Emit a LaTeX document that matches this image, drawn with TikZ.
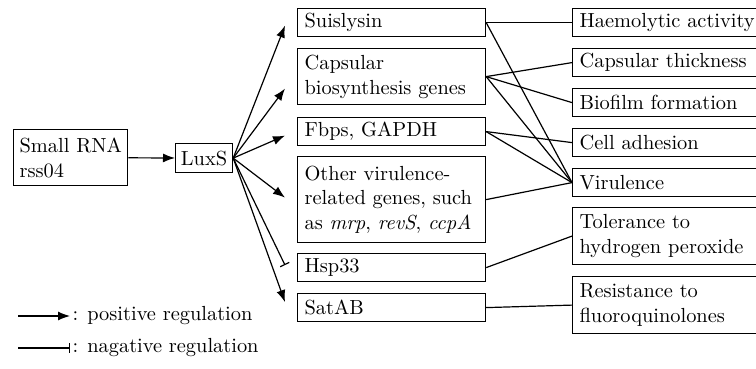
\documentclass[tikz,border=0pt]{standalone}
\usetikzlibrary{arrows.meta}
\begin{document}
\begin{tikzpicture}[x=.5pt, y=-.5pt, line width=.6pt, >={Latex[length=6pt,width=4.5pt]},
  every node/.style={font=\fontsize{10.2pt}{12.4pt}\selectfont},
  box/.style={draw, anchor=north west, inner xsep=3.5pt, inner ysep=0pt, align=left, minimum height=14pt},
  gene/.style={box, text width=87pt},
  trait/.style={box, text width=95pt}]
\useasboundingbox (0,0) rectangle (756,369);
\node [box, inner xsep=3pt, minimum width=57pt, minimum height=28pt] (rna) at (13,129) {Small RNA\\rss04};
\node [box, inner xsep=2pt, minimum width=28.5pt, minimum height=14.5pt, align=center] (lux) at (175,143) {LuxS};
% genes
\node [gene] (sui) at (297,8) {Suislysin};
\node [gene, minimum height=28pt] (cap) at (297,48) {Capsular\\biosynthesis genes};
\node [gene] (fbp) at (297,117) {Fbps, GAPDH};
\node [gene, minimum height=43pt] (oth) at (297,156) {Other virulence-\\related genes, such\\as \textit{mrp}, \textit{revS}, \textit{ccpA}};
\node [gene] (hsp) at (297,253) {Hsp33};
\node [gene] (sat) at (297,293) {SatAB};
% traits
\node [trait] (hae) at (572,8) {Haemolytic activity};
\node [trait] (thk) at (572,48) {Capsular thickness};
\node [trait] (bio) at (572,88) {Biofilm formation};
\node [trait] (adh) at (572,128) {Cell adhesion};
\node [trait] (vir) at (572,168) {Virulence};
\node [trait, minimum height=28.5pt] (tol) at (572,207) {Tolerance to\\hydrogen peroxide};
\node [trait, minimum height=28.5pt] (flq) at (572,276) {Resistance to\\fluoroquinolones};
\draw [->] (rna) -- (lux);
\draw [->] (lux.east) -- ([xshift=-6pt, yshift=-1.5pt]sui.west);
\draw [->] (lux.east) -- ([xshift=-6pt, yshift=-6pt]cap.west);
\draw [->] (lux.east) -- ([xshift=-6pt, yshift=-2pt]fbp.west);
\draw [->] (lux.east) -- ([xshift=-6pt, yshift=1pt]oth.west);
\draw [-{Bar[width=5pt]}] (lux.east) -- ([xshift=-6pt, yshift=1.25pt]hsp.west);
\draw [->] (lux.east) -- ([xshift=-6pt, yshift=2.75pt]sat.west);
\draw (sui.east) -- (hae.west);
\draw (sui.east) -- (vir.west);
\draw (cap.east) -- (thk.west);
\draw (cap.east) -- (bio.west);
\draw (cap.east) -- (vir.west);
\draw (fbp.east) -- (adh.west);
\draw (fbp.east) -- (vir.west);
\draw (oth.east) -- (vir.west);
\draw (hsp.east) -- (tol.west);
\draw (sat.east) -- (flq.west);
% legend
\coordinate (posl) at (18,316);
\coordinate (negl) at (18,348);
\node [anchor=west, inner sep=0pt] (post) at (72,316) {: positive regulation};
\node [anchor=west, inner sep=0pt] (negt) at (72,348) {: nagative regulation};
\draw [->] (posl) -- ([xshift=-1pt]post.west);
\draw [-{Bar[width=5pt]}] (negl) -- ([xshift=-1pt]negt.west);
\end{tikzpicture}
\end{document}
